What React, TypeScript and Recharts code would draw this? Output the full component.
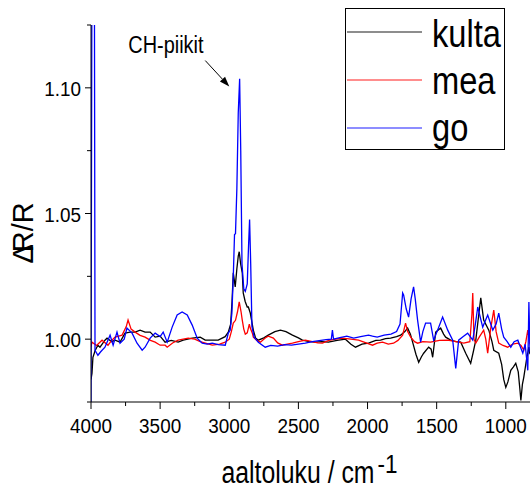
import { LineChart, Line, XAxis, YAxis, Legend, ReferenceDot } from "recharts";

// wavenumbers (cm-1) and dR/R values
const seriesNames = ["kulta", "mea", "go"];

const kultaX = [4000, 3993, 3986, 3970, 3950, 3935, 3899, 3884, 3850, 3826, 3790, 3754, 3717, 3681, 3645, 3609, 3572, 3536, 3500, 3464, 3420, 3370, 3333, 3268, 3210, 3174, 3116, 3080, 3030, 3007, 2990, 2980, 2971, 2957, 2945, 2935, 2928, 2918, 2906, 2899, 2885, 2870, 2862, 2848, 2826, 2810, 2790, 2750, 2718, 2670, 2630, 2590, 2543, 2500, 2471, 2420, 2377, 2330, 2283, 2220, 2160, 2120, 2087, 2040, 1993, 1940, 1906, 1870, 1833, 1790, 1761, 1730, 1710, 1690, 1674, 1650, 1630, 1610, 1594, 1558, 1540, 1529, 1507, 1471, 1450, 1435, 1399, 1360, 1326, 1290, 1254, 1235, 1217, 1195, 1181, 1160, 1123, 1100, 1087, 1051, 1030, 1015, 1000, 985, 964, 945, 928, 910, 898, 891, 880, 870, 850, 833, 825];
const kultaY = [0.984, 0.9864, 0.9928, 0.9955, 0.9976, 0.9968, 0.9996, 1.0004, 0.999, 0.9996, 0.9988, 1.0024, 1.0028, 1.0028, 1.0036, 1.0028, 1.0028, 1.0008, 1.0012, 0.9988, 0.9995, 0.9988, 0.9996, 1.0004, 1.0008, 0.9996, 0.9996, 0.9996, 1.001, 1.0028, 1.006, 1.015, 1.0264, 1.0208, 1.028, 1.033, 1.0348, 1.03, 1.0264, 1.0184, 1.015, 1.0128, 1.0128, 1.0104, 1.0036, 1.0005, 0.9996, 1.0005, 1.0016, 1.003, 1.0036, 1.003, 1.0016, 1.0005, 0.9996, 0.999, 0.9988, 0.999, 0.9988, 0.9995, 1.0, 0.998, 0.9968, 0.998, 0.9984, 0.9995, 0.9996, 1.0002, 1.0004, 1.001, 1.0016, 1.003, 1.0044, 1.002, 0.9988, 0.994, 0.9908, 0.993, 0.9944, 0.9968, 0.996, 0.9928, 1.0028, 1.0044, 1.002, 1.0008, 0.9996, 0.999, 0.9988, 0.9944, 0.9904, 0.995, 0.9996, 1.01, 1.0164, 1.0076, 1.0036, 0.999, 0.9956, 0.9944, 0.99, 0.984, 0.9808, 0.983, 0.9876, 0.989, 0.9904, 0.987, 0.98, 0.9756, 0.982, 0.9848, 0.992, 0.9968, 0.994];

const meaX = [4000, 3993, 3960, 3920, 3877, 3850, 3826, 3775, 3745, 3732, 3710, 3681, 3645, 3609, 3570, 3536, 3500, 3464, 3449, 3410, 3370, 3333, 3297, 3250, 3210, 3160, 3123, 3070, 3029, 3000, 2985, 2971, 2955, 2940, 2928, 2915, 2906, 2895, 2884, 2870, 2855, 2848, 2833, 2826, 2800, 2775, 2740, 2718, 2681, 2650, 2616, 2580, 2543, 2500, 2449, 2400, 2360, 2326, 2280, 2230, 2181, 2120, 2065, 2010, 1964, 1930, 1891, 1850, 1812, 1780, 1746, 1725, 1710, 1688, 1660, 1638, 1600, 1544, 1480, 1420, 1360, 1304, 1260, 1245, 1239, 1230, 1217, 1190, 1160, 1145, 1131, 1110, 1087, 1070, 1051, 1020, 986, 950, 913, 890, 870, 855, 841, 825];
const meaY = [0.997, 0.9988, 0.9975, 0.9996, 0.9976, 0.9995, 1.0008, 1.0016, 1.005, 1.0076, 1.004, 1.0028, 1.0015, 1.0008, 0.9995, 0.9988, 0.9976, 0.9976, 0.9968, 0.9985, 0.9996, 1.0, 1.0004, 1.0, 0.999, 0.9982, 0.9976, 0.998, 0.9988, 1.0, 1.003, 1.0064, 1.0075, 1.011, 1.0148, 1.011, 1.0076, 1.004, 1.002, 1.0025, 1.006, 1.0044, 1.0024, 1.0008, 0.9995, 0.9988, 1.0005, 1.0012, 1.0004, 0.9985, 0.9976, 0.998, 0.9984, 0.999, 0.9996, 0.999, 0.9985, 0.9984, 0.9995, 1.0, 1.0004, 1.0, 0.9996, 0.9985, 0.9976, 0.9984, 0.9988, 0.998, 0.9984, 0.9995, 1.0016, 1.0064, 1.003, 1.0008, 0.999, 0.9984, 0.999, 0.9988, 0.9995, 0.9996, 0.999, 0.9984, 0.999, 1.01, 1.0184, 1.0, 0.9984, 1.001, 1.0036, 1.0, 0.9944, 1.004, 1.0116, 1.003, 0.9984, 0.9975, 0.9968, 0.998, 0.9984, 0.9975, 0.9956, 0.999, 1.0036, 0.998];

const goX = [4000, 3994, 3975, 3971, 3950, 3930, 3899, 3862, 3840, 3812, 3790, 3760, 3740, 3703, 3667, 3630, 3609, 3572, 3536, 3500, 3478, 3449, 3413, 3377, 3341, 3304, 3268, 3232, 3196, 3160, 3123, 3080, 3029, 3007, 2993, 2981, 2971, 2962, 2955, 2945, 2935, 2925, 2917, 2908, 2895, 2884, 2870, 2860, 2853, 2845, 2836, 2820, 2790, 2740, 2700, 2650, 2600, 2550, 2500, 2450, 2400, 2350, 2300, 2262, 2254, 2246, 2200, 2150, 2100, 2050, 1993, 1964, 1930, 1880, 1830, 1790, 1765, 1746, 1739, 1720, 1703, 1685, 1667, 1655, 1638, 1616, 1600, 1580, 1544, 1522, 1490, 1457, 1420, 1384, 1362, 1341, 1310, 1276, 1239, 1220, 1203, 1167, 1131, 1094, 1070, 1051, 1030, 1015, 990, 964, 940, 913, 895, 877, 860, 841, 833, 825];
const goY = [0.975, 1.13, 1.13, 0.9956, 0.9936, 0.995, 0.9968, 1.0016, 0.9976, 1.0028, 0.9984, 1.0, 1.0044, 1.0024, 0.9984, 0.9956, 0.9968, 1.0004, 1.0024, 1.001, 1.0028, 0.9988, 1.0048, 1.0096, 1.0108, 1.0096, 1.0056, 1.0004, 0.9984, 0.998, 0.9984, 0.9978, 0.9976, 1.0024, 1.0036, 1.0104, 1.0248, 1.0416, 1.042, 1.06, 1.09, 1.1036, 1.075, 1.03, 1.02, 1.019, 1.022, 1.038, 1.0476, 1.03, 1.005, 1.0008, 0.9988, 0.9968, 0.9975, 0.9972, 0.9978, 0.9976, 0.998, 0.9984, 0.999, 0.9994, 0.9998, 1.0, 1.0036, 1.0, 1.0006, 1.0012, 1.0004, 1.001, 1.0016, 1.0012, 1.0008, 1.0016, 1.002, 1.003, 1.006, 1.0184, 1.0176, 1.012, 1.0088, 1.016, 1.0208, 1.016, 1.0076, 0.9988, 1.003, 1.0064, 1.0064, 0.9996, 1.004, 1.0088, 1.0036, 0.9996, 0.9884, 0.9996, 1.001, 1.0024, 0.9996, 1.006, 1.0128, 1.0048, 1.0096, 1.0036, 1.006, 1.0104, 1.004, 1.0008, 0.999, 0.9968, 0.999, 0.9996, 0.997, 0.9944, 0.998, 0.9876, 1.0148, 0.995];

const xTicks = [4000, 3750, 3500, 3250, 3000, 2750, 2500, 2250, 2000, 1750, 1500, 1250, 1000];
const yTicks = [0.975, 1.0, 1.025, 1.05, 1.075, 1.1, 1.125];

const toPoints = (xs: number[], ys: number[]) => xs.map((x, i) => ({ x, y: ys[i] }));

const FONT = "'Liberation Sans', Arial, sans-serif";
const PLOT_LEFT = 91;
const PLOT_BOTTOM = 402;

// text squeezed horizontally, like the original export
const SText = ({ x, y, size, sx = 1, anchor = "start", children }: any) => (
    <text
        transform={`translate(${x},${y}) scale(${sx},1)`}
        textAnchor={anchor}
        fontSize={size}
        fontFamily={FONT}
        fill="#000"
    >
        {children}
    </text>
);

const XTick = (props: any) => {
    const { x, payload } = props;
    const major = payload.value % 500 === 0;
    return (
        <g>
            <line x1={x} x2={x} y1={PLOT_BOTTOM} y2={PLOT_BOTTOM + (major ? 7 : 4)} stroke="#000" />
            {major && <SText x={x} y={PLOT_BOTTOM + 31} size={21} sx={0.9} anchor="middle">{payload.value}</SText>}
        </g>
    );
};

const YTick = (props: any) => {
    const { y, payload } = props;
    const major = Math.round(payload.value * 1000) % 50 === 0;
    return (
        <g>
            <line x1={PLOT_LEFT - (major ? 6 : 4)} x2={PLOT_LEFT} y1={y} y2={y} stroke="#000" />
            {major && <SText x={PLOT_LEFT - 10} y={y + 8} size={21} sx={0.9} anchor="end">{payload.value.toFixed(2)}</SText>}
        </g>
    );
};

const XLabel = (props: any) => {
    const { viewBox } = props;
    const cx = viewBox.x + viewBox.width / 2;
    const base = viewBox.y + 81;
    return (
        <g>
            <SText x={cx - 89} y={base} size={31} sx={0.8}>aaltoluku / cm</SText>
            <SText x={cx + 67} y={base - 10} size={25} sx={0.9}>-1</SText>
        </g>
    );
};

const YLabel = (props: any) => {
    const { viewBox } = props;
    const cy = viewBox.y + viewBox.height / 2;
    return (
        <text transform={`translate(33,${cy + 50}) rotate(-90)`} fontSize={29} fontFamily={FONT} fill="#000">
            <tspan>Δ</tspan>
            <tspan dx={-8}>R/R</tspan>
        </text>
    );
};

const ArrowNote = (props: any) => {
    const { cx, cy } = props;
    const tx = cx - 24, ty = cy - 26;
    const ang = Math.atan2(cy - ty, cx - tx);
    const hl = 10, hw = 3.5;
    const bx = cx - hl * Math.cos(ang), by = cy - hl * Math.sin(ang);
    const px = -Math.sin(ang) * hw, py = Math.cos(ang) * hw;
    return (
        <g>
            <line x1={tx} y1={ty} x2={bx} y2={by} stroke="#000" />
            <polygon points={`${cx},${cy} ${bx + px},${by + py} ${bx - px},${by - py}`} fill="#000" />
            <SText x={cx - 101} y={cy - 34} size={24} sx={0.83}>CH-piikit</SText>
        </g>
    );
};

const renderLegend = (props: any) => {
    const items = [...(props.payload || [])].sort(
        (a: any, b: any) => seriesNames.indexOf(a.value) - seriesNames.indexOf(b.value)
    );
    return (
        <svg width={160} height={150} style={{ overflow: "visible", display: "block" }}>
            <rect x={0.5} y={0.5} width={159} height={141} fill="#fff" stroke="#000" />
            {items.map((it: any, i: number) => (
                <g key={it.value}>
                    <line x1={2} x2={77} y1={24 + i * 48} y2={24 + i * 48} stroke={it.color} strokeOpacity={0.6} strokeWidth={1.5} />
                    <SText x={87} y={39 + i * 47} size={38} sx={0.86}>{it.value}</SText>
                </g>
            ))}
        </svg>
    );
};

export default function App() {
    return (
        <div style={{ position: "absolute", left: 0, top: 0 }}>
            <LineChart width={530} height={491} margin={{ top: 25, right: 0, bottom: 0, left: 0 }}>
                <XAxis
                    type="number"
                    dataKey="x"
                    domain={[825, 4000]}
                    reversed
                    allowDataOverflow
                    ticks={xTicks}
                    interval={0}
                    tick={<XTick />}
                    tickLine={false}
                    axisLine={{ stroke: "#000" }}
                    height={89}
                    label={{ content: <XLabel /> }}
                />
                <YAxis
                    type="number"
                    domain={[0.975, 1.125]}
                    allowDataOverflow
                    ticks={yTicks}
                    interval={0}
                    tick={<YTick />}
                    tickLine={false}
                    axisLine={{ stroke: "#000" }}
                    width={91}
                    label={{ content: <YLabel /> }}
                />
                <Legend
                    layout="vertical"
                    align="center"
                    verticalAlign="middle"
                    content={renderLegend}
                    wrapperStyle={{ left: 345, top: 8, width: 160, height: 142 }}
                />
                <Line data={toPoints(kultaX, kultaY)} dataKey="y" name="kulta" stroke="#000000" strokeWidth={1.3} dot={false} isAnimationActive={false} />
                <Line data={toPoints(meaX, meaY)} dataKey="y" name="mea" stroke="#ff0000" strokeWidth={1.3} dot={false} isAnimationActive={false} />
                <Line data={toPoints(goX, goY)} dataKey="y" name="go" stroke="#0000ff" strokeWidth={1.3} dot={false} isAnimationActive={false} />
                <ReferenceDot x={3000} y={1.1005} r={0} shape={<ArrowNote />} ifOverflow="visible" />
            </LineChart>
        </div>
    );
}
